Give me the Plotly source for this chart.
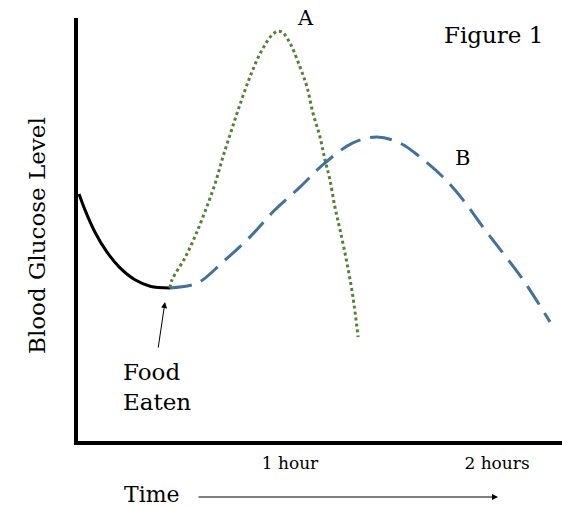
import plotly.graph_objects as go

# Time in hours, blood glucose level in arbitrary units (0 = x axis, 100 = top of y axis)
black_t = [-0.019, 0.010, 0.058, 0.116, 0.179, 0.251, 0.324, 0.420]
black_g = [58.6, 54.8, 49.6, 44.9, 41.2, 38.4, 36.9, 36.5]

a_t = [0.420, 0.430, 0.493, 0.541, 0.589, 0.638, 0.676, 0.720, 0.768, 0.816, 0.865,
       0.913, 0.942, 0.966, 1.000, 1.048, 1.082, 1.111, 1.145, 1.169, 1.193, 1.217,
       1.242, 1.275, 1.304, 1.329]
a_g = [36.5, 38.4, 43.6, 48.6, 54.4, 61.0, 67.3, 74.0, 81.0, 87.3, 92.5,
       96.0, 96.9, 96.5, 94.1, 88.5, 83.8, 77.6, 72.0, 66.6, 61.9, 55.5,
       50.1, 42.4, 34.4, 24.9]

b_t = [0.420, 0.551, 0.676, 0.807, 0.918, 1.048, 1.169, 1.304, 1.420, 1.531, 1.628,
       1.739, 1.836, 1.932, 2.029, 2.126, 2.256]
b_g = [36.5, 37.6, 42.6, 48.5, 54.4, 60.2, 65.9, 70.6, 72.0, 70.6, 67.3,
       62.6, 57.2, 50.8, 44.7, 38.4, 28.5]

tick_vals = [1, 2]
tick_text = ["1 hour", "2 hours"]

FONT = "DejaVu Serif"
W, H = 562, 506
L, R, T, B = 78, 0, 18, 65


def px(x):
    return (x - L) / (W - L - R)


def py(y):
    return (H - B - y) / (H - T - B)


fig = go.Figure()
fig.add_trace(go.Scatter(x=black_t, y=black_g, mode="lines", line_shape="spline",
                         line=dict(color="black", width=3, smoothing=1), hoverinfo="skip"))
fig.add_trace(go.Scatter(x=a_t, y=a_g, mode="lines", line_shape="spline",
                         line=dict(color="#548235", width=3, dash="dot", smoothing=1),
                         hoverinfo="skip"))
fig.add_trace(go.Scatter(x=b_t, y=b_g, mode="lines", line_shape="spline",
                         line=dict(color="#41719C", width=3, dash="22px,10px", smoothing=1),
                         hoverinfo="skip"))

x0 = (L - 83) / 207
x1 = (W - 83) / 207
fig.update_xaxes(range=[x0, x1], showline=True, linewidth=4, linecolor="black",
                 showgrid=False, zeroline=False, ticks="", tickvals=tick_vals,
                 ticktext=tick_text, tickfont=dict(family=FONT, size=17, color="black"),
                 ticklabelstandoff=4)
fig.update_yaxes(range=[(443 - (H - B)) / 4.25, 100], showline=True, linewidth=4,
                 linecolor="black", showgrid=False, zeroline=False,
                 showticklabels=False, ticks="")

anns = [
    dict(text="Figure 1", x=px(493), y=py(35), size=23),
    dict(text="A", x=px(305), y=py(18), size=21),
    dict(text="B", x=px(462), y=py(158), size=21),
    dict(text="Food<br>Eaten", x=px(121), y=py(387), size=23, xanchor="left"),
    dict(text="Time", x=px(152), y=py(494), size=22),
]
for a in anns:
    fig.add_annotation(text=a["text"], x=a["x"], y=a["y"], xref="paper", yref="paper",
                       showarrow=False, xanchor=a.get("xanchor", "center"), yanchor="middle",
                       align="left", font=dict(family=FONT, size=a["size"], color="black"))

fig.add_annotation(text="Blood Glucose Level", x=px(22), y=py(236), xref="paper", yref="paper",
                   showarrow=False, textangle=-90, font=dict(family=FONT, size=23, color="black"))

# arrow to Food Eaten point
fig.add_annotation(text="", x=px(165), y=py(302), xref="paper", yref="paper",
                   showarrow=True, ax=-7, ay=47, arrowhead=2, arrowsize=1.2,
                   arrowwidth=1, arrowcolor="black")
# Time arrow
fig.add_annotation(text="", x=px(498), y=py(497), xref="paper", yref="paper",
                   showarrow=True, ax=-301, ay=0, arrowhead=2, arrowsize=1.2,
                   arrowwidth=1, arrowcolor="black")

fig.update_layout(width=W, height=H, margin=dict(l=L, r=R, t=T, b=B),
                  plot_bgcolor="white", paper_bgcolor="white", showlegend=False)
fig.write_html("out.html", config={"displayModeBar": False},
               post_script="document.body.style.margin='0px';")
